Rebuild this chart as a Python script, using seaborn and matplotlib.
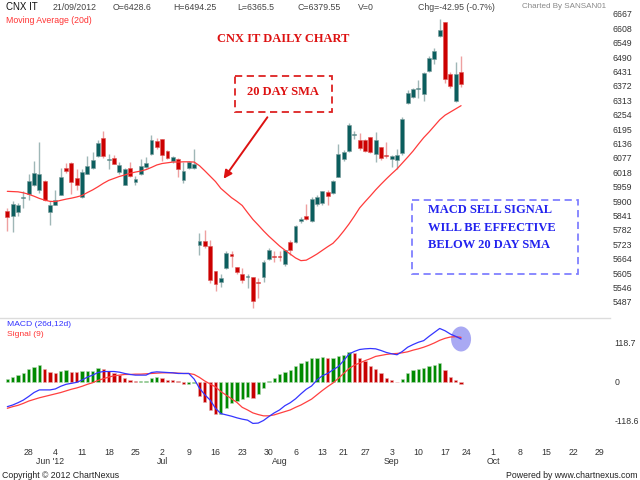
import numpy as np
import pandas as pd
import matplotlib
matplotlib.use("Agg")
import matplotlib.pyplot as plt
import seaborn as sns
from matplotlib.patches import Rectangle, Ellipse

# --- trading calendar ---
start_date = "2012-05-22"
end_date = "2012-09-21"
holidays = ["2012-08-15", "2012-08-20", "2012-09-19"]
future_end = "2012-10-31"

# --- daily OHLC, CNX IT ---
opens = [5858, 5838, 5857, 5912, 5931, 5965, 5947, 5982, 5854, 5886,
         5924, 6036, 6057, 5993, 5917, 6013, 6034, 6084, 6158, 6068,
         6076, 6020, 5968, 6036, 5977, 6009, 6039, 6091, 6145, 6156,
         6105, 6064, 6073, 5988, 6036, 6036, 5721, 5738, 5714, 5612,
         5569, 5625, 5683, 5628, 5601, 5588, 5588, 5566, 5591, 5664,
         5676, 5676, 5643, 5731, 5732, 5817, 5839, 5817, 5890, 5892,
         5938, 5934, 6000, 6071, 6105, 6172, 6149, 6149, 6164, 6091,
         6121, 6087, 6071, 6068, 6096, 6300, 6328, 6359, 6339, 6433,
         6482, 6578, 6632, 6421, 6310, 6428.6]
highs = [5872, 5899, 5892, 5940, 6009, 6064, 6143, 5988, 5899, 5947,
         6036, 6057, 6060, 6030, 6032, 6084, 6102, 6150, 6187, 6091,
         6087, 6060, 6036, 6060, 6002, 6071, 6082, 6169, 6160, 6156,
         6108, 6084, 6077, 6060, 6064, 6114, 5769, 5783, 5742, 5612,
         5602, 5694, 5697, 5632, 5625, 5602, 5591, 5584, 5660, 5708,
         5694, 5694, 5701, 5742, 5803, 5834, 5888, 5916, 5923, 5943,
         5947, 5987, 6135, 6108, 6219, 6187, 6180, 6153, 6164, 6184,
         6121, 6143, 6087, 6112, 6246, 6355, 6365, 6396, 6430, 6494,
         6529, 6645, 6635, 6430, 6471, 6494.25]
lows = [5778, 5775, 5838, 5872, 5906, 5961, 5934, 5899, 5803, 5882,
        5923, 6016, 5931, 5947, 5913, 6009, 6030, 6082, 6077, 6030,
        6050, 6009, 5965, 5999, 5968, 6006, 6036, 6087, 6114, 6064,
        6073, 6057, 5999, 5975, 6030, 6030, 5680, 5708, 5564, 5530,
        5550, 5623, 5632, 5602, 5566, 5543, 5461, 5502, 5568, 5660,
        5649, 5653, 5635, 5680, 5728, 5810, 5824, 5814, 5879, 5882,
        5886, 5931, 5997, 6064, 6102, 6153, 6109, 6102, 6098, 6061,
        6068, 6075, 6039, 6030, 6089, 6296, 6324, 6321, 6310, 6430,
        6460, 6574, 6383, 6365, 6307, 6365.5]
closes = [5834, 5890, 5882, 5917, 5984, 6016, 6012, 5903, 5886, 5906,
          5999, 6023, 5977, 5968, 6020, 6043, 6067, 6139, 6084, 6073,
          6053, 6046, 6030, 6002, 5991, 6043, 6057, 6149, 6123, 6087,
          6077, 6082, 6030, 6023, 6060, 6054, 5738, 5714, 5575, 5560,
          5583, 5687, 5676, 5608, 5575, 5591, 5492, 5564, 5649, 5698,
          5672, 5672, 5698, 5701, 5799, 5828, 5828, 5909, 5917, 5940,
          5920, 5984, 6091, 6102, 6212, 6176, 6116, 6105, 6102, 6149,
          6077, 6084, 6084, 6087, 6235, 6344, 6359, 6365, 6426, 6488,
          6515, 6601, 6399, 6373, 6422.5, 6379.55]

# 20 day simple moving average as drawn
sma20 = [5940, 5939, 5938, 5934, 5928, 5920, 5911, 5904, 5899, 5898,
         5903, 5908, 5912, 5917, 5923, 5935, 5946, 5959, 5973, 5985,
         5993, 6001, 6007, 6014, 6019, 6023, 6029, 6038, 6048, 6054,
         6057, 6060, 6060, 6061, 6061, 6060, 6045, 6024, 6002, 5980,
         5952, 5933, 5914, 5899, 5882, 5853, 5825, 5802, 5778, 5756,
         5736, 5716, 5699, 5683, 5667, 5656, 5658, 5670, 5683, 5698,
         5713, 5727, 5750, 5777, 5806, 5838, 5872, 5897, 5921, 5946,
         5969, 5991, 6012, 6032, 6056, 6080, 6105, 6133, 6160, 6183,
         6208, 6233, 6252, 6265, 6278, 6291]

# MACD panel
macd = [-76, -71, -64, -56, -45, -33, -25, -25, -25, -22,
        -14, -8, -5, -2, 5, 14, 20, 28, 31, 31,
        31, 29, 25, 22, 20, 20, 20, 28, 30, 29,
        28, 27, 25, 25, 25, 8, -20, -40, -56, -81,
        -97, -101, -105, -110, -114, -117, -127, -126, -118, -106,
        -95, -86, -73, -64, -52, -37, -23, -13, 5, 18,
        25, 36, 46, 64, 84, 92, 98, 100, 101, 100,
        95, 89, 85, 82, 92, 105, 113, 120, 125, 138,
        150, 162, 155, 145, 138, 130]
signal = [-81, -76, -72, -66, -59, -54, -49, -45, -41, -37,
          -33, -28, -23, -19, -14, -8, -3, 4, 9, 14,
          18, 20, 22, 22, 23, 23, 24, 25, 26, 27,
          27, 27, 26, 25, 25, 22, 13, 2, -7, -16,
          -30, -41, -52, -63, -78, -86, -95, -100, -104, -104,
          -101, -96, -91, -86, -78, -71, -62, -53, -40, -27,
          -15, -4, 10, 25, 40, 50, 57, 64, 70, 77,
          80, 83, 85, 86, 88, 91, 96, 100, 105, 111,
          118, 126, 132, 136, 137, 135]
hist = [7, 13, 20, 27, 38, 46, 50, 40, 30, 25,
        32, 37, 31, 28, 32, 33, 34, 42, 39, 33,
        27, 20, 12, 5, 1, 1.5, 3, 12, 13, 11,
        6, 5, 1, -7, -6, -5, -44, -61, -86, -99,
        -98, -81, -64, -59, -54, -46, -49, -38, -18, 2,
        12, 22, 30, 36, 49, 58, 62, 71, 73, 75,
        71, 72, 78, 81, 90, 86, 73, 64, 49, 39,
        25, 12, 5, -2, 8, 25, 36, 38, 43, 49,
        51, 58, 36, 15, 5, -8]

price_ticks = [5487 + 59 * k for k in range(21)]
macd_ticks = [-118.6, 0, 118.7]

sns.set_theme(style="white")
plt.rcParams["font.family"] = ["Liberation Sans", "DejaVu Sans"]

trade_days = pd.bdate_range(start_date, end_date, freq="C", holidays=holidays)
future_days = pd.bdate_range(trade_days[-1] + pd.Timedelta(days=1), future_end)
all_days = trade_days.append(future_days)
cal = pd.DataFrame({"day": all_days, "pos": np.arange(len(all_days))})
x = np.arange(len(closes))

weeks = cal.groupby(cal["day"].dt.to_period("W")).first()
weeks = weeks[weeks["pos"] > 0]
months = cal.groupby(cal["day"].dt.to_period("M")).first()
months = months[months["pos"] > 0]

fig = plt.figure(figsize=(6.4, 4.8), dpi=100)
W, H = 640.0, 480.0
ax_p = fig.add_axes([0, (H - 318) / H, 610 / W, 308 / H])
ax_m = fig.add_axes([0, (H - 440) / H, 610 / W, 120 / H])
for ax in (ax_p, ax_m):
    ax.set_facecolor("none")
    ax.set_xlim(-1.37, 112.9)
    for s in ax.spines.values():
        s.set_visible(False)

# --- price panel ---
o = np.array(opens)
c = np.array(closes)
up = c >= o
body_col = np.where(up, "#0b5e5e", "#cc0000")
wick_col = np.where(up, "#9fb7b7", "#eea0a0")
edge_col = np.where(up, "#7c9c9c", "#dd5555")
ax_p.vlines(x, lows, highs, colors=wick_col, lw=1.0, zorder=2)
ax_p.bar(x, np.maximum(np.abs(c - o), 4), bottom=np.minimum(o, c), width=0.72,
         color=body_col, edgecolor=edge_col, linewidth=0.4, zorder=3)
sns.lineplot(x=x, y=sma20, ax=ax_p, color="#ff3b3b", lw=0.9, zorder=4)

ax_p.set_ylim(5421, 6683)
ax_p.yaxis.tick_right()
ax_p.set_yticks(price_ticks)
ax_p.set_yticklabels([str(t) for t in price_ticks])
ax_p.tick_params(axis="y", length=0, pad=2, labelsize=6.3, labelcolor="#333333")
ax_p.set_xticks([])
ax_p.spines["bottom"].set_visible(True)
ax_p.spines["bottom"].set_color("#dcdcdc")
ax_p.spines["bottom"].set_linewidth(1.0)

# --- MACD panel ---
hv = np.array(hist)
rising = np.r_[True, hv[1:] >= hv[:-1]]
ax_m.bar(x, hv, width=0.62, color=np.where(rising, "#008a00", "#c80000"),
         edgecolor=np.where(rising, "#b8d8b8", "#e8b0b0"), linewidth=0.4, zorder=2)
ax_m.add_patch(Ellipse((x[-1], macd[-1]), width=20 / 5.34, height=25 * 3.044,
                       facecolor="#a9a9f3", edgecolor="none", zorder=1))
sns.lineplot(x=x, y=signal, ax=ax_m, color="#ff4040", lw=0.9, zorder=3)
sns.lineplot(x=x, y=macd, ax=ax_m, color="#3535ff", lw=0.9, zorder=4)

ax_m.set_ylim(-177.5, 187.8)
ax_m.yaxis.tick_right()
ax_m.set_yticks(macd_ticks)
ax_m.set_yticklabels(["-118.6", "0", "118.7"])
ax_m.tick_params(axis="y", length=0, pad=3, labelsize=6.3, labelcolor="#333333")
ax_m.set_xticks(weeks["pos"])
ax_m.set_xticklabels(weeks["day"].dt.day.astype(str))
ax_m.tick_params(axis="x", length=0, pad=6, labelsize=6.3, labelcolor="#333333")
for k, (_, row) in enumerate(months.iterrows()):
    lab = row["day"].strftime("%b '%y") if k == 0 else row["day"].strftime("%b")
    ax_m.text(row["pos"], -0.175, lab, transform=ax_m.get_xaxis_transform(),
              ha="center", va="center", fontsize=6.3, color="#333333")

# --- header, footer and notes in pixel coordinates ---
ov = fig.add_axes([0, 0, 1, 1], zorder=5)
ov.set_xlim(0, W)
ov.set_ylim(H, 0)
ov.axis("off")
ov.patch.set_alpha(0)

ov.text(6, 7, "CNX IT", fontsize=7, color="#111111", va="center")
header = [(53, "21/09/2012"), (113, "O=6428.6"), (173, "H=6494.25"), (237, "L=6365.5"),
          (297, "C=6379.55"), (358, "V=0"), (418, "Chg=-42.95 (-0.7%)")]
for hx, txt in header:
    ov.text(hx, 7, txt, fontsize=6.3, color="#444444", va="center")
ov.text(522, 7, "Charted By SANSAN01", fontsize=5.8, color="#888888", va="center")
ov.text(6, 20.5, "Moving Average (20d)", fontsize=6.3, color="#ff3333", va="center")
ov.text(7, 324.5, "MACD (26d,12d)", fontsize=6.1, color="#3333ff", va="center")
ov.text(7, 334, "Signal (9)", fontsize=6.1, color="#ff3333", va="center")
ov.text(2, 475, "Copyright \u00a9 2012 ChartNexus", fontsize=6.3, color="#222222", va="center")
ov.text(638, 475, "Powered by www.chartnexus.com", fontsize=6.3, color="#222222",
        va="center", ha="right")

serif = dict(family="Liberation Serif", weight="bold", fontsize=9)
ov.text(283, 39, "CNX IT DAILY CHART", color="#dd1111", ha="center", va="center", **serif)
ov.add_patch(Rectangle((235, 76), 97, 36, fill=False, ec="#dd2222", lw=1.3, ls=(0, (4, 2.5))))
ov.text(283, 92, "20 DAY SMA", color="#dd1111", ha="center", va="center", **serif)
ov.annotate("", xy=(222, 181), xytext=(269, 115),
            arrowprops=dict(arrowstyle="-|>", color="#dd1111", lw=1.4, mutation_scale=12))
ov.add_patch(Rectangle((412, 200), 166, 74, fill=False, ec="#8080ff", lw=1.3, ls=(0, (4, 2.5))))
for ty, txt in [(210, "MACD SELL SIGNAL"), (228, "WILL BE EFFECTIVE"), (245, "BELOW 20 DAY SMA")]:
    ov.text(428, ty, txt, color="#2222ee", ha="left", va="center", **serif)

fig.savefig("out.png", dpi=100)
